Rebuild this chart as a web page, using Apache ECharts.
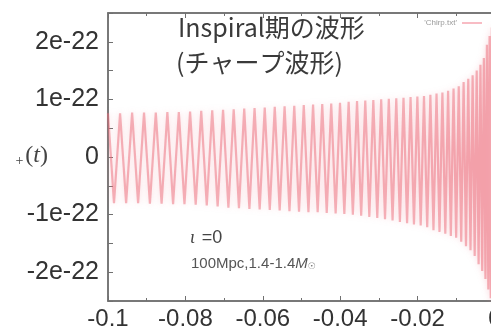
<!DOCTYPE html>
<html>
<head>
<meta charset="utf-8">
<script src="https://cdn.jsdelivr.net/npm/echarts@6/dist/echarts.min.js"></script>
<style>
  html, body { margin: 0; padding: 0; background: #fff; }
  #chart { width: 491px; height: 335px; }
</style>
</head>
<body>
<div id="chart"></div>
<script>
// times of the wave's peaks / troughs (s)
var extremaT = [
  -0.10000, -0.09845, -0.09688, -0.09532, -0.09377, -0.09222, -0.09069, -0.08917,
  -0.08765, -0.08615, -0.08466, -0.08318, -0.08170, -0.08024, -0.07879, -0.07734,
  -0.07591, -0.07448, -0.07307, -0.07167, -0.07027, -0.06889, -0.06752, -0.06616,
  -0.06480, -0.06346, -0.06213, -0.06081, -0.05950, -0.05820, -0.05691, -0.05564,
  -0.05437, -0.05311, -0.05187, -0.05064, -0.04941, -0.04821, -0.04701, -0.04582,
  -0.04464, -0.04348, -0.04232, -0.04118, -0.04005, -0.03893, -0.03782, -0.03673,
  -0.03565, -0.03458, -0.03352, -0.03247, -0.03144, -0.03042, -0.02941, -0.02842,
  -0.02744, -0.02647, -0.02551, -0.02457, -0.02364, -0.02272, -0.02182, -0.02094,
  -0.02006, -0.01920, -0.01835, -0.01752, -0.01670, -0.01590, -0.01511, -0.01434,
  -0.01359, -0.01284, -0.01212, -0.01141, -0.01071, -0.01004, -0.00937, -0.00873,
  -0.00811, -0.00750, -0.00691, -0.00633, -0.00578, -0.00525, -0.00473, -0.00424,
  -0.00376, -0.00331, -0.00288, -0.00247, -0.00209, -0.00173, -0.00140, -0.00109,
  -0.00082, -0.00057
];
// h+(t) at those times, in units of 1e-22
var extremaH = [
  0.76, -0.80, 0.76, -0.80, 0.77, -0.80, 0.77, -0.81,
  0.77, -0.81, 0.78, -0.82, 0.78, -0.82, 0.79, -0.83,
  0.80, -0.84, 0.81, -0.86, 0.82, -0.88, 0.83, -0.89,
  0.84, -0.90, 0.85, -0.91, 0.86, -0.92, 0.87, -0.93,
  0.88, -0.94, 0.89, -0.95, 0.90, -0.96, 0.91, -0.96,
  0.92, -0.97, 0.93, -0.98, 0.94, -0.99, 0.96, -1.00,
  0.97, -1.02, 0.98, -1.04, 0.99, -1.06, 1.00, -1.08,
  1.01, -1.10, 1.02, -1.13, 1.03, -1.15, 1.04, -1.17,
  1.05, -1.19, 1.06, -1.22, 1.08, -1.27, 1.10, -1.30,
  1.12, -1.33, 1.15, -1.37, 1.19, -1.40, 1.23, -1.47,
  1.30, -1.55, 1.36, -1.62, 1.42, -1.72, 1.50, -1.86,
  1.60, -1.98, 1.72, -2.12, 1.95, -2.30, 2.10, -2.45,
  2.25, -2.60
];
var xTicks = { min: -0.1, max: 0, step: 0.02 };
var yTicks = { min: -2.5, max: 2.5, step: 0.5 };   // 1e-22 units

var frame = '#707070';

var waveData = extremaT.map(function (t, i) { return [t, extremaH[i]]; });

var chart = echarts.init(document.getElementById('chart'));

var xCommon = {
  type: 'value',
  min: xTicks.min,
  max: xTicks.max,
  interval: xTicks.step,
  axisLine: { show: true, onZero: false, lineStyle: { color: frame, width: 1.5 } },
  axisTick: { show: true, inside: true, length: 5, lineStyle: { color: frame } },
  minorTick: { show: true, splitNumber: 2, length: 3, lineStyle: { color: frame } },
  splitLine: { show: false }
};

chart.setOption({
  animation: false,
  backgroundColor: '#fff',
  grid: {
    left: 108, right: -4, top: 13, bottom: 34,
    outerBoundsMode: 'none',
    containLabel: false,
    show: true, borderColor: frame, borderWidth: 1.5
  },
  legend: {
    right: 4, top: 14, align: 'right',
    itemWidth: 20, itemHeight: 1, icon: 'rect', itemGap: 4,
    textStyle: { fontSize: 8, color: '#999', fontFamily: 'Liberation Sans' },
    data: ["'Chirp.txt'"]
  },
  xAxis: [
    echarts.util.merge({
      position: 'bottom',
      axisLabel: {
        margin: 6,
        fontFamily: 'Liberation Sans', fontSize: 24, color: '#333',
        formatter: function (v) { return Math.abs(v) < 1e-9 ? '0' : String(+v.toFixed(2)); }
      }
    }, xCommon, true),
    echarts.util.merge({
      position: 'top',
      axisLabel: { show: false }
    }, xCommon, true)
  ],
  yAxis: {
    type: 'value',
    min: yTicks.min,
    max: yTicks.max,
    interval: yTicks.step,
    axisLine: { show: true, onZero: false, lineStyle: { color: frame, width: 1.5 } },
    axisTick: { show: true, inside: true, length: 5, lineStyle: { color: frame } },
    splitLine: { show: false },
    axisLabel: {
      margin: 9,
      fontFamily: 'Liberation Sans', fontSize: 25, color: '#333',
      formatter: function (v) {
        var r = Math.round(v);
        if (Math.abs(v - r) > 1e-6) return '';
        return r === 0 ? '0' : r + 'e-22';
      }
    }
  },
  series: [{
    name: "'Chirp.txt'",
    type: 'line',
    data: waveData,
    showSymbol: false,
    clip: true,
    color: '#f07888',
    lineStyle: {
      width: 2.2,
      color: 'rgba(236,105,120,0.5)',
      shadowBlur: 6,
      shadowColor: 'rgba(242,140,152,0.7)'
    }
  }],
  graphic: [
    // y axis name, its "h" lies outside the picture
    { type: 'text', x: 48, y: 156,
      style: {
        text: '{s|+}{t|(}{i|t}{t|)}',
        align: 'right', verticalAlign: 'middle',
        rich: {
          s: { fontFamily: 'Liberation Serif', fontSize: 14, fill: '#444', padding: [10, 2, 0, 0] },
          t: { fontFamily: 'Liberation Serif', fontSize: 24, fill: '#444' },
          i: { fontFamily: 'Liberation Serif', fontStyle: 'italic', fontSize: 24, fill: '#444' }
        }
      } },
    { type: 'text', left: 178, top: 15,
      style: { text: 'Inspiral期の波形', font: '25px "Noto Sans CJK JP"', fill: '#3a3a3a' } },
    { type: 'text', left: 176, top: 50,
      style: { text: '(チャープ波形)', font: '25px "Noto Sans CJK JP"', fill: '#3a3a3a' } },
    { type: 'text', left: 190, top: 229,
      style: {
        text: '{i|ι}  {n|=0}',
        rich: {
          i: { fontFamily: 'Liberation Serif', fontStyle: 'italic', fontSize: 18, fill: '#444' },
          n: { fontFamily: 'Liberation Sans', fontSize: 18, fill: '#444' }
        }
      } },
    { type: 'text', left: 191, top: 256,
      style: {
        text: '{n|100Mpc,1.4-1.4}{m|M}{o|☉}',
        rich: {
          n: { fontFamily: 'Liberation Sans', fontSize: 15, fill: '#555' },
          m: { fontFamily: 'Liberation Sans', fontStyle: 'italic', fontSize: 15, fill: '#555' },
          o: { fontFamily: 'DejaVu Sans', fontSize: 9, fill: '#777', padding: [7, 0, 0, 0] }
        }
      } }
  ]
});
</script>
</body>
</html>
